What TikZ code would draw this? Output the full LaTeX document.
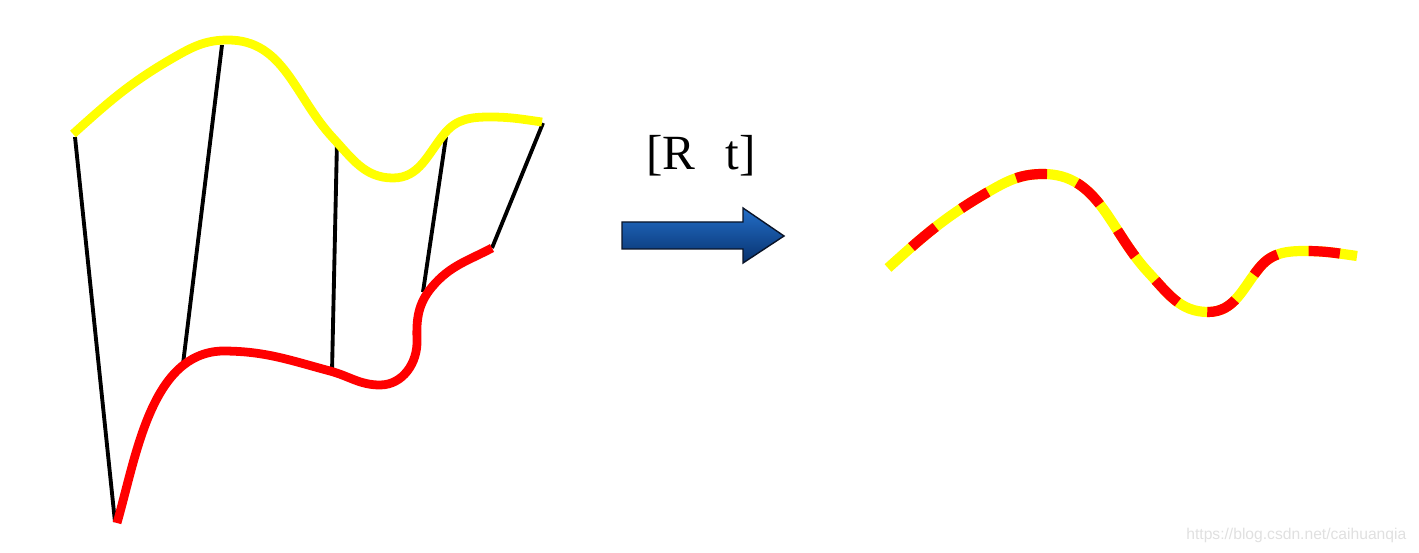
\documentclass[tikz,border=0pt]{standalone}
\usepackage{fontspec}
\setmainfont{Liberation Serif}
\newfontfamily\markfont{Liberation Sans}
\usetikzlibrary{calc}
\definecolor{FlagYellow}{RGB}{255,255,0}
\definecolor{FlagRed}{RGB}{255,0,0}
\definecolor{ArrowTop}{RGB}{35,110,200}
\definecolor{ArrowBot}{RGB}{8,50,110}
\definecolor{ArrowEdge}{RGB}{10,20,40}
\tikzset{
  topcurve/.style={FlagYellow, line width=5pt},
  botcurve/.style={FlagRed, line width=5pt},
  link/.style={black, line width=2.2pt},
  mixcurve/.style={FlagRed, line width=5.8pt, dash pattern=on 17.9pt off 17.9pt, dash phase=17.9pt},
  bigarrow/.style={draw=ArrowEdge, line width=0.8pt, top color=ArrowTop, bottom color=ArrowBot},
}

\begin{document}
\begin{tikzpicture}[x=0.02cm, y=-0.02cm]
  \useasboundingbox (0,0) rectangle (1419,553);

  % links between the two curves
  \coordinate (a1) at (75,137);  \coordinate (b1) at (115,522);
  \coordinate (a2) at (222,45);  \coordinate (b2) at (183,364);
  \coordinate (a3) at (337,141); \coordinate (b3) at (332,372);
  \coordinate (a4) at (446,137); \coordinate (b4) at (423,292);
  \coordinate (a5) at (543,123); \coordinate (b5) at (492,248);
  \foreach \i in {1,...,5}
    \draw[link] (a\i) -- (b\i);

  \draw[topcurve] (73,134) to[out=42, in=210] (173,58) to[out=30, in=180] (228,40)
    to[out=0, in=133] (333,138) to[out=-47, in=180] (393,178)
    to[out=0, in=230] (445,133) to[out=50, in=180] (490,117) to[out=0, in=172] (542,122);
  \draw[botcurve] (117,523) to[out=74, in=182, looseness=0.9] (222,351) to[out=0, in=165] (330,371)
    to[out=-15, in=180] (380,385) to[out=0, in=-88] (417,340) to[out=92, in=230] (432,287)
    to[out=50, in=208] (492,248);

  % transform
  \node[anchor=base west, inner sep=0pt, font=\fontsize{28}{34}\selectfont] (rt) at (646,170) {[R\hspace{17.3pt}t]};
  \draw[bigarrow] (622,222) -- (743,222) -- (743,208) -- (784,236) -- (743,263) -- (743,249) -- (622,249) -- cycle;

  % result
  \begin{scope}[shift={(815,134)}]
    \draw[topcurve, line width=5.8pt] (73,134) to[out=42, in=210] (173,58) to[out=30, in=180] (228,40)
      to[out=0, in=133] (333,138) to[out=-47, in=180] (393,178)
      to[out=0, in=230] (445,133) to[out=50, in=180] (490,117) to[out=0, in=172] (542,122);
    \draw[mixcurve] (73,134) to[out=42, in=210] (173,58) to[out=30, in=180] (228,40)
      to[out=0, in=133] (333,138) to[out=-47, in=180] (393,178)
      to[out=0, in=230] (445,133) to[out=50, in=180] (490,117) to[out=0, in=172] (542,122);
  \end{scope}

  \node[anchor=base west, inner sep=0pt, font=\markfont\fontsize{8.9}{10}\selectfont, text=black!12] (mark) at (1186,539) {https://blog.csdn.net/caihuanqia};
\end{tikzpicture}
\end{document}
